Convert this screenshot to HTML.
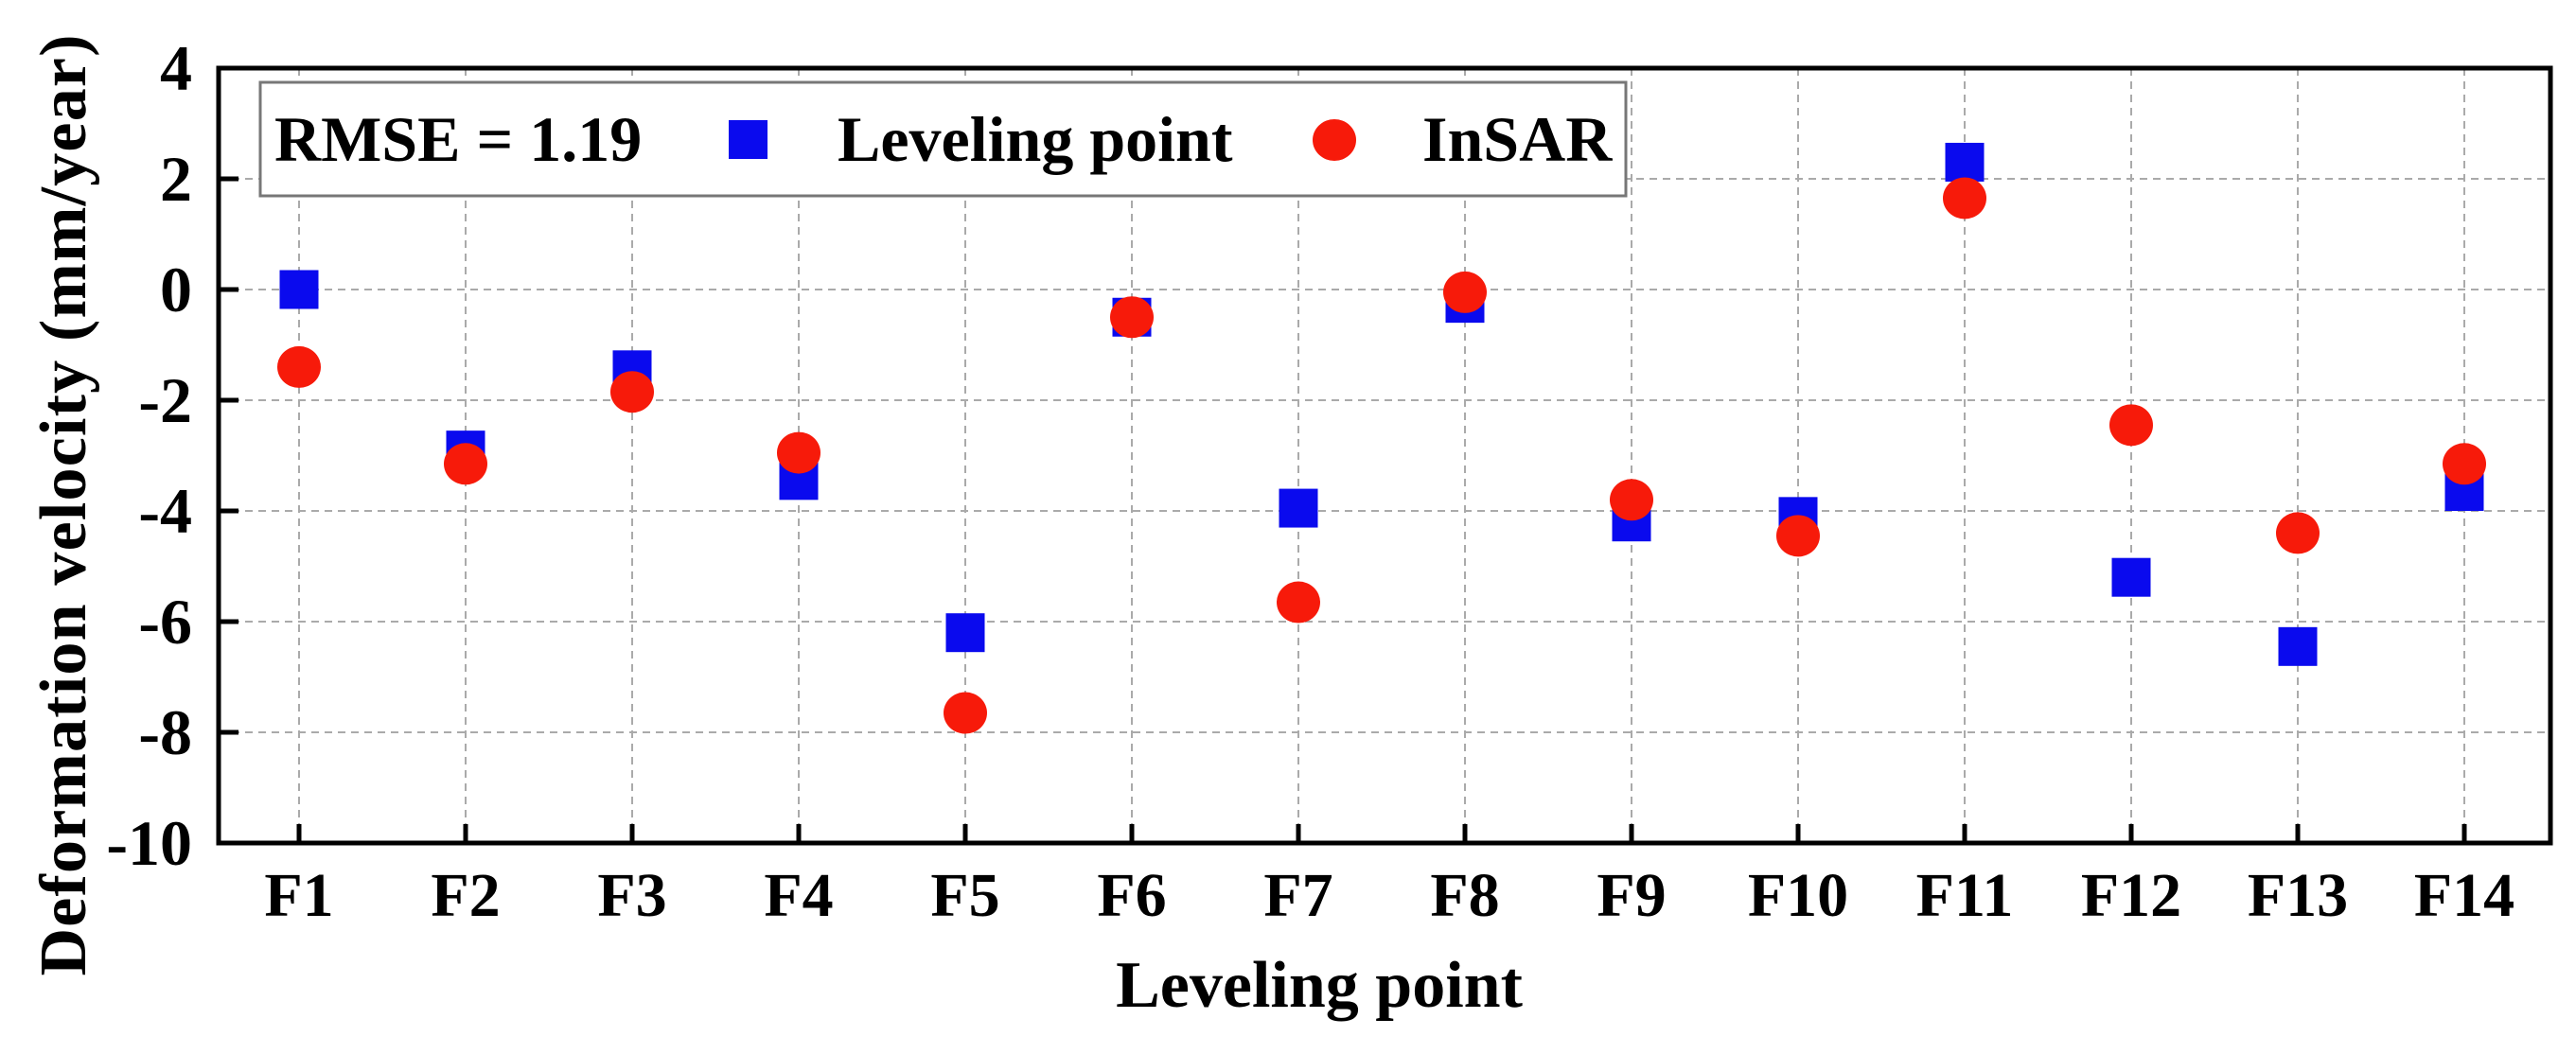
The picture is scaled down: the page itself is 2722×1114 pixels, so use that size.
<!DOCTYPE html>
<html><head><meta charset="utf-8"><style>
html,body{margin:0;padding:0;background:#fff;}
svg text{font-family:"Liberation Serif",serif;font-weight:bold;fill:#000;}
</style></head><body>
<svg id="chart" width="2722" height="1109" viewBox="0 0 2722 1109" xmlns="http://www.w3.org/2000/svg">
<g id="grid"></g>
<g id="marks"></g>
<g id="axes"></g>
<g>
  <rect x="275" y="87" width="1443" height="120" fill="#fff" stroke="#777" stroke-width="3"/>
  <text x="290" y="170" font-size="68">RMSE = 1.19</text>
  <rect x="770" y="127" width="41" height="41" fill="#0a0aee"/>
  <text x="885" y="170" font-size="68">Leveling point</text>
  <ellipse cx="1410" cy="148" rx="23" ry="22" fill="#f71a0a"/>
  <text x="1503" y="170" font-size="68">InSAR</text>
</g>
<text x="1394" y="1064" font-size="70" text-anchor="middle">Leveling point</text>
<text transform="translate(90,534) rotate(-90)" font-size="70" text-anchor="middle" textLength="995" lengthAdjust="spacing">Deformation velocity (mm/year)</text>
</svg>
<script>
const categories = ["F1","F2","F3","F4","F5","F6","F7","F8","F9","F10","F11","F12","F13","F14"];
const levelingValues = [0, -2.9, -1.45, -3.45, -6.2, -0.5, -3.95, -0.25, -4.2, -4.1, 2.3, -5.2, -6.45, -3.65];
const insarValues = [-1.4, -3.15, -1.85, -2.95, -7.65, -0.5, -5.65, -0.05, -3.8, -4.45, 1.65, -2.45, -4.4, -3.15];
const yTicks = [4, 2, 0, -2, -4, -6, -8, -10];

const NS = "http://www.w3.org/2000/svg";
const L = 231, R = 2695, T = 72, B = 891;
const yMin = -10, yMax = 4;
const x0 = 316, dx = 176;
function xScale(i){ return x0 + i*dx; }
function yScale(v){ return B - (v - yMin)/(yMax - yMin)*(B - T); }
function mk(tag, attrs, parent){
  const e = document.createElementNS(NS, tag);
  for (const k in attrs) e.setAttribute(k, attrs[k]);
  parent.appendChild(e); return e;
}
const grid = document.getElementById('grid');
const marks = document.getElementById('marks');
const axes = document.getElementById('axes');

yTicks.forEach(v => {
  if (v === yMin || v === yMax) return;
  const y = yScale(v);
  const g = mk('line', {x1:L, x2:R, y1:y, y2:y, stroke:'#aaa', 'stroke-width':2, 'stroke-dasharray':'8 6'}, grid);
  
  
});
categories.forEach((c, i) => {
  const x = xScale(i);
  const g = mk('line', {x1:x, x2:x, y1:T, y2:B, stroke:'#aaa', 'stroke-width':2, 'stroke-dasharray':'8 6'}, grid);
  
  
});

levelingValues.forEach((v, i) => {
  const s = mk('rect', {x:xScale(i)-20.5, y:yScale(v)-20.5, width:41, height:41, fill:'#0a0aee'}, marks);
  
  
});
insarValues.forEach((v, i) => {
  const c = mk('ellipse', {cx:xScale(i), cy:yScale(v), rx:23, ry:22, fill:'#f71a0a'}, marks);
  
  
});

const frame = mk('rect', {x:L, y:T, width:R-L, height:B-T, fill:'none', stroke:'#000', 'stroke-width':5}, axes);



yTicks.forEach(v => {
  const y = yScale(v);
  const t = mk('line', {x1:L, x2:L+21, y1:y, y2:y, stroke:'#000', 'stroke-width':5}, axes);
  
  
  const lb = mk('text', {x:203, y:y+23, 'font-size':68, 'text-anchor':'end'}, axes);
  lb.textContent = String(v);
  
  
});
categories.forEach((c, i) => {
  const x = xScale(i);
  const t = mk('line', {x1:x, x2:x, y1:B, y2:B-20, stroke:'#000', 'stroke-width':5}, axes);
  
  
  const lb = mk('text', {x:x, y:968, 'font-size':66, 'text-anchor':'middle'}, axes);
  lb.textContent = c;
  
  
});
</script>
</body></html>
